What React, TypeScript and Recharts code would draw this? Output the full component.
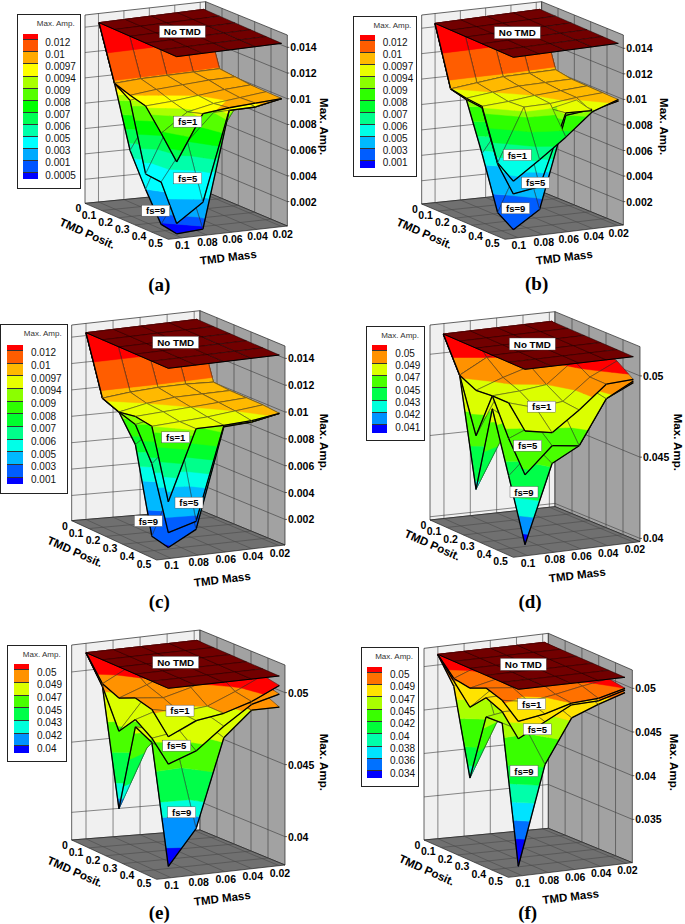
import { ScatterChart, Scatter, XAxis, YAxis } from 'recharts'

// rows: TMD posit. 0 .. 0.5, columns: TMD mass 0.1 .. 0.02
const POSITS = [0, 0.1, 0.2, 0.3, 0.4, 0.5]
const MASSES = [0.1, 0.08, 0.06, 0.04, 0.02]
const FS_NAMES = ['fs=9', 'fs=5', 'fs=1']

const A_TOP = [0.0144, 0.0144, 0.0144, 0.0144, 0.0144]
const A_FS9 = [A_TOP, [0.0102, 0.0103, 0.0103, 0.0103, 0.0103], [0.0055, 0.0088, 0.0097, 0.0101, 0.0102], [0.003, 0.0075, 0.0092, 0.0099, 0.0101], [0.0008, 0.004, 0.0066, 0.0097, 0.01], [0.0006, 0.0007, 0.0097, 0.0097, 0.0101]]
const A_FS5 = [A_TOP, [0.0102, 0.0103, 0.0103, 0.0103, 0.0103], [0.0094, 0.0098, 0.01, 0.0102, 0.0102], [0.0042, 0.0082, 0.0095, 0.01, 0.0101], [0.0041, 0.007, 0.009, 0.0098, 0.01], [0.0014, 0.0028, 0.0097, 0.0097, 0.0101]]
const A_FS1 = [A_TOP, [0.0102, 0.0103, 0.0103, 0.0103, 0.0103], [0.0098, 0.01, 0.0101, 0.0102, 0.0102], [0.0095, 0.0096, 0.0098, 0.01, 0.0101], [0.0079, 0.0093, 0.0097, 0.0099, 0.0101], [0.0062, 0.0097, 0.0099, 0.01, 0.0101]]

const B_FS9 = [A_TOP, [0.0098, 0.01, 0.0102, 0.0102, 0.0102], [0.0095, 0.0096, 0.0099, 0.01, 0.01], [0.0058, 0.0085, 0.0095, 0.0098, 0.01], [0.0017, 0.006, 0.0088, 0.0095, 0.0099], [0.0009, 0.0022, 0.0093, 0.0095, 0.0099]]
const B_FS5 = [A_TOP, [0.0098, 0.01, 0.0102, 0.0102, 0.0102], [0.0095, 0.0097, 0.01, 0.01, 0.01], [0.0094, 0.0095, 0.0097, 0.0099, 0.01], [0.0055, 0.0085, 0.0093, 0.0097, 0.01], [0.0037, 0.004, 0.0095, 0.0094, 0.0099]]
const B_FS1 = [A_TOP, [0.0098, 0.01, 0.0102, 0.0102, 0.0102], [0.0096, 0.0098, 0.01, 0.01, 0.01], [0.0095, 0.0096, 0.0098, 0.0099, 0.01], [0.0056, 0.0097, 0.0097, 0.0099, 0.01], [0.0047, 0.0061, 0.0076, 0.0093, 0.01]]

const C_TOP = [0.01425, 0.01425, 0.01425, 0.01425, 0.01425]
const C_FS9 = [C_TOP, [0.0099, 0.0101, 0.0102, 0.0102, 0.0101], [0.0094, 0.0096, 0.0099, 0.01, 0.01], [0.0075, 0.009, 0.0096, 0.0098, 0.01], [0.0012, 0.006, 0.0088, 0.0095, 0.0099], [0.0009, 0.002, 0.0094, 0.0095, 0.0099]]
const C_FS5 = [C_TOP, [0.0099, 0.0101, 0.0102, 0.0102, 0.0101], [0.0094, 0.0097, 0.01, 0.01, 0.01], [0.009, 0.0094, 0.0097, 0.0099, 0.01], [0.0066, 0.0085, 0.0094, 0.0097, 0.01], [0.002, 0.0026, 0.0095, 0.0095, 0.0099]]
const C_FS1 = [C_TOP, [0.0099, 0.0101, 0.0102, 0.0102, 0.0101], [0.0094, 0.0098, 0.01, 0.01, 0.01], [0.0096, 0.0097, 0.0098, 0.0099, 0.01], [0.0094, 0.0095, 0.0096, 0.0098, 0.01], [0.0043, 0.0095, 0.0095, 0.0096, 0.0099]]

const D_TOP = [0.0512, 0.0512, 0.0512, 0.0512, 0.0512]
const D_FS9 = [D_TOP, [0.0491, 0.05, 0.0502, 0.0508, 0.051], [0.0425, 0.0456, 0.049, 0.0503, 0.0507], [0.0479, 0.0465, 0.0482, 0.0498, 0.0505], [0.0442, 0.0458, 0.047, 0.0488, 0.0499], [0.0404, 0.0452, 0.0461, 0.0488, 0.0496]]
const D_FS5 = [D_TOP, [0.0491, 0.05, 0.0502, 0.0508, 0.051], [0.0458, 0.0488, 0.0495, 0.0504, 0.0508], [0.0487, 0.0484, 0.0488, 0.05, 0.0506], [0.0465, 0.0472, 0.0478, 0.049, 0.05], [0.0447, 0.0463, 0.0461, 0.0488, 0.0497]]
const D_FS1 = [D_TOP, [0.0491, 0.05, 0.0503, 0.0508, 0.051], [0.0486, 0.0492, 0.0497, 0.0506, 0.0509], [0.0487, 0.0488, 0.049, 0.0503, 0.0508], [0.0487, 0.0482, 0.0484, 0.0497, 0.0505], [0.0474, 0.0471, 0.0483, 0.0497, 0.0498]]

const E_TOP = [0.05116, 0.05116, 0.05116, 0.05116, 0.05116]
const E_FS9 = [E_TOP, [0.0493, 0.05, 0.0506, 0.0509, 0.051], [0.0413, 0.0453, 0.0495, 0.0503, 0.0505], [0.0475, 0.047, 0.0486, 0.0497, 0.05], [0.0469, 0.0455, 0.0477, 0.0492, 0.0495], [0.0388, 0.0412, 0.0473, 0.049, 0.049]]
const E_FS5 = [E_TOP, [0.0493, 0.05, 0.0506, 0.0509, 0.051], [0.0467, 0.049, 0.05, 0.0506, 0.0508], [0.048, 0.0486, 0.0492, 0.05, 0.0505], [0.0472, 0.0475, 0.0484, 0.0496, 0.0502], [0.0459, 0.0466, 0.0481, 0.0494, 0.0499]]
const E_FS1 = [E_TOP, [0.0495, 0.0505, 0.0508, 0.051, 0.051], [0.049, 0.0497, 0.0505, 0.0509, 0.051], [0.0495, 0.0493, 0.0498, 0.0505, 0.0509], [0.0492, 0.0488, 0.049, 0.0498, 0.0507], [0.0478, 0.0487, 0.049, 0.0496, 0.0505]]

const F_TOP = [0.05126, 0.05126, 0.05126, 0.05126, 0.05126]
const F_FS9 = [F_TOP, [0.0484, 0.05, 0.0506, 0.0509, 0.051], [0.0387, 0.0447, 0.0495, 0.0503, 0.0506], [0.0465, 0.047, 0.049, 0.0498, 0.0502], [0.0466, 0.045, 0.048, 0.0492, 0.0498], [0.031, 0.0423, 0.0473, 0.0485, 0.0495]]
const F_FS5 = [F_TOP, [0.049, 0.0503, 0.0508, 0.051, 0.0511], [0.0468, 0.049, 0.05, 0.0505, 0.0508], [0.0487, 0.0488, 0.0494, 0.05, 0.0504], [0.0479, 0.0478, 0.0487, 0.0494, 0.05], [0.0456, 0.0472, 0.0488, 0.0489, 0.0498]]
const F_FS1 = [F_TOP, [0.0493, 0.0505, 0.0509, 0.0511, 0.0512], [0.049, 0.0497, 0.0504, 0.0508, 0.051], [0.0498, 0.0495, 0.0498, 0.0503, 0.0507], [0.0492, 0.0487, 0.0492, 0.0498, 0.0503], [0.0476, 0.0481, 0.049, 0.0492, 0.05]]

// contour levels (low to high) and how the legend prints them
const LEVELS_A = [0.0009, 0.0015, 0.003, 0.005, 0.006, 0.007, 0.008, 0.009, 0.0094, 0.0098, 0.0104, 0.0123]
const LABELS_A = ['0.0005', '0.001', '0.003', '0.005', '0.006', '0.007', '0.008', '0.009', '0.0094', '0.0097', '0.01', '0.012']
const LEVELS_B = [0.001, 0.003, 0.005, 0.006, 0.007, 0.008, 0.009, 0.0094, 0.0098, 0.0104, 0.0123]
const LABELS_B = ['0.001', '0.003', '0.005', '0.006', '0.007', '0.008', '0.009', '0.0094', '0.0097', '0.01', '0.012']
const LEVELS_D = [0.041, 0.042, 0.043, 0.045, 0.047, 0.049, 0.05]
const LABELS_D = ['0.041', '0.042', '0.043', '0.045', '0.047', '0.049', '0.05']
const LEVELS_E = [0.04, 0.042, 0.043, 0.045, 0.047, 0.049, 0.05]
const LABELS_E = ['0.04', '0.042', '0.043', '0.045', '0.047', '0.049', '0.05']
const LEVELS_F = [0.034, 0.036, 0.038, 0.04, 0.042, 0.045, 0.047, 0.049, 0.05]
const LABELS_F = ['0.034', '0.036', '0.038', '0.04', '0.042', '0.045', '0.047', '0.049', '0.05']

const TICKS_LOW = [0.002, 0.004, 0.006, 0.008, 0.01, 0.012, 0.014]
const TICKS_HIGH = [0.04, 0.045, 0.05]
const TICKS_F = [0.035, 0.04, 0.045, 0.05]

const W = 685
const H = 924
const MASS_L = 0.1106
const MASS_R = 0.0157
const FONT = '"Liberation Sans", Arial, sans-serif'

// all layout numbers are measured on the 3x crops, ox/oy is the crop origin
const PANELS = [
  {
    name: '(a)', ox: 0, oy: 0, surf: [A_FS9, A_FS5, A_FS1], levels: LEVELS_A, labels: LABELS_A, ticks: TICKS_LOW,
    L: [297, 68], F: [530, 170], R: [845, 130], a0: 0.0144, k: 38500, zr: [0.0001, 0.01496],
    fl: [255, 610], ff: [505, 718], fr: [862, 678], fb: [617, 575], tl: 45, tb: 5, tr: 105,
    boxes: [[547, 95], [467, 632], [563, 535], [563, 365]],
    legend: { box: [50, 43, 242, 568], sw: [66, 111, 100, 535], tx: 133, first: 125, step: 36.25 },
    cap: [478, 852], posit: [262, 700], mass: [685, 772], amp: [972, 380],
  },
  {
    name: '(b)', ox: 345, oy: 0, surf: [B_FS9, B_FS5, B_FS1], levels: LEVELS_B, labels: LABELS_B, ticks: TICKS_LOW,
    L: [270, 70], F: [505, 172], R: [820, 130], a0: 0.0144, k: 38300, zr: [0.00017, 0.01504],
    fl: [230, 612], ff: [480, 718], fr: [835, 675], fb: [590, 575], tl: 45, tb: 5, tr: 105,
    boxes: [[517, 98], [512, 625], [572, 548], [517, 465]],
    legend: { box: [25, 48, 217, 532], sw: [42, 87, 103, 500], tx: 110, first: 127, step: 36 },
    cap: [575, 850], posit: [238, 700], mass: [658, 772], amp: [958, 380],
  },
  {
    name: '(c)', ox: 0, oy: 310, surf: [C_FS9, C_FS5, C_FS1], levels: LEVELS_B, labels: LABELS_B, ticks: TICKS_LOW,
    L: [258, 68], F: [505, 175], R: [838, 135], a0: 0.01425, k: 40250, zr: [0.00009, 0.01492],
    fl: [215, 632], ff: [470, 750], fr: [855, 705], fb: [600, 600], tl: 45, tb: 2, tr: 108,
    boxes: [[527, 97], [445, 633], [567, 578], [527, 382]],
    legend: { box: [1, 43, 203, 552], sw: [18, 65, 102, 520], tx: 90, first: 127, step: 38 },
    cap: [478, 875], posit: [225, 725], mass: [667, 808], amp: [972, 397],
  },
  {
    name: '(d)', ox: 345, oy: 310, surf: [D_FS9, D_FS5, D_FS1], levels: LEVELS_D, labels: LABELS_D, ticks: TICKS_HIGH,
    L: [295, 72], F: [540, 178], R: [865, 140], a0: 0.0512, k: 48700, zr: [0.0398, 0.0518],
    fl: [255, 630], ff: [505, 742], fr: [885, 695], fb: [630, 590], tl: 45, tb: 5, tr: 110,
    boxes: [[562, 102], [537, 546], [548, 407], [590, 290]],
    legend: { box: [63, 48, 240, 393], sw: [78, 124, 103, 365], tx: 148, first: 128, step: 37 },
    cap: [555, 875], posit: [262, 705], mass: [697, 795], amp: [1000, 397],
  },
  {
    name: '(e)', ox: 0, oy: 620, surf: [E_FS9, E_FS5, E_FS1], levels: LEVELS_E, labels: LABELS_E, ticks: TICKS_HIGH,
    L: [258, 98], F: [505, 205], R: [838, 168], a0: 0.05116, k: 43200, zr: [0.03803, 0.05192],
    fl: [215, 660], ff: [470, 778], fr: [855, 735], fb: [600, 630], tl: 75, tb: 30, tr: 135,
    boxes: [[527, 127], [545, 577], [530, 377], [540, 272]],
    legend: { box: [22, 75, 200, 427], sw: [38, 85, 130, 397], tx: 108, first: 155, step: 38 },
    cap: [478, 876], posit: [225, 755], mass: [667, 835], amp: [972, 427],
  },
  {
    name: '(f)', ox: 345, oy: 620, surf: [F_FS9, F_FS5, F_FS1], levels: LEVELS_F, labels: LABELS_F, ticks: TICKS_F,
    L: [278, 103], F: [520, 208], R: [840, 172], a0: 0.05126, k: 26200, zr: [0.03004, 0.0521],
    fl: [237, 660], ff: [490, 772], fr: [862, 728], fb: [610, 625], tl: 85, tb: 40, tr: 150,
    boxes: [[535, 133], [537, 453], [577, 328], [560, 252]],
    legend: { box: [47, 82, 222, 500], sw: [62, 107, 138, 470], tx: 132, first: 162, step: 37 },
    cap: [548, 876], posit: [245, 750], mass: [677, 830], amp: [987, 427],
  },
]

type Panel = (typeof PANELS)[number]
type Pt = { x: number; y: number; a?: number }
type Poly = { pts: Pt[]; fill: string; stroke: string; sw: number; open?: boolean }

function rainbow(t: number) {
  const hex = (v: number) => Math.round(v * 255).toString(16).padStart(2, '0')
  let r = 0
  let g = 0
  let b = 0
  if (t < 0.25) { g = t / 0.25; b = 1 }
  else if (t < 0.5) { g = 1; b = 1 - (t - 0.25) / 0.25 }
  else if (t < 0.75) { r = (t - 0.5) / 0.25; g = 1 }
  else { r = 1; g = 1 - (t - 0.75) / 0.25 }
  return `#${hex(r)}${hex(g)}${hex(b)}`
}

const page = (p: Panel, zx: number, zy: number): Pt => ({ x: zx / 3 + p.ox, y: zy / 3 + p.oy })

function project(p: Panel, i: number, j: number, a: number): Pt {
  const zx = p.L[0] + (i * (p.F[0] - p.L[0])) / 5 + (j * (p.R[0] - p.F[0])) / 4
  const zy = p.L[1] + (i * (p.F[1] - p.L[1])) / 5 + (j * (p.R[1] - p.F[1])) / 4 + (p.a0 - a) * p.k
  return { ...page(p, zx, zy), a }
}

function clip(poly: Pt[], level: number, keepAbove: boolean) {
  const out: Pt[] = []
  const inside = (v: Pt) => (keepAbove ? v.a! >= level : v.a! <= level)
  poly.forEach((cur, n) => {
    const nxt = poly[(n + 1) % poly.length]
    if (inside(cur)) out.push(cur)
    if (inside(cur) !== inside(nxt)) {
      const t = (level - cur.a!) / (nxt.a! - cur.a!)
      out.push({ x: cur.x + t * (nxt.x - cur.x), y: cur.y + t * (nxt.y - cur.y), a: level })
    }
  })
  return out
}

const lerp = (a: number[], b: number[], t: number) => [a[0] + (b[0] - a[0]) * t, a[1] + (b[1] - a[1]) * t]

function framePolys(p: Panel): Poly[] {
  const { fl, ff, fr, fb, tl, tb, tr } = p
  const out: Poly[] = []
  const line = (a: number[], b: number[], stroke = '#3a3a3a', sw = 0.6) =>
    out.push({ pts: [page(p, a[0], a[1]), page(p, b[0], b[1])], fill: 'none', stroke, sw, open: true })
  const face = (c: number[][], fill: string) =>
    out.push({ pts: c.map((v) => page(p, v[0], v[1])), fill, stroke: '#222', sw: 0.7 })
  const topL = [fl[0], tl]
  const topB = [fb[0], tb]
  const topR = [fr[0], tr]
  face([fl, fb, topB, topL], '#f0f0f0')
  face([fb, fr, topR, topB], '#a2a2a2')
  face([fl, ff, fr, fb], '#707070')
  MASSES.forEach((m) => {
    const t = (MASS_L - m) / (MASS_L - MASS_R)
    line(lerp(fl, fb, t), lerp(topL, topB, t))
    line(lerp(fl, fb, t), lerp(ff, fr, t), '#4a4a4a')
  })
  POSITS.slice(1, 5).forEach((po) => {
    const t = po / 0.5
    line(lerp(fb, fr, t), lerp(topB, topR, t))
    line(lerp(fl, ff, t), lerp(fb, fr, t), '#4a4a4a')
  })
  p.ticks.forEach((a) => {
    const t = (a - p.zr[0]) / (p.zr[1] - p.zr[0])
    const onL = lerp(fl, topL, t)
    const onB = lerp(fb, topB, t)
    const onR = lerp(fr, topR, t)
    line(onL, onB)
    line(onB, onR)
    line(onR, [onR[0] + 6, onR[1]], '#000')
  })
  return out
}

function surfacePolys(p: Panel): Poly[] {
  const cells: { key: number; mean: number; polys: Poly[] }[] = []
  const nBands = p.levels.length + 1
  p.surf.forEach((grid) => {
    for (let i = 0; i < POSITS.length - 1; i++) {
      for (let j = 0; j < MASSES.length - 1; j++) {
        const quad = [
          project(p, i, j, grid[i][j]),
          project(p, i + 1, j, grid[i + 1][j]),
          project(p, i + 1, j + 1, grid[i + 1][j + 1]),
          project(p, i, j + 1, grid[i][j + 1]),
        ]
        const polys: Poly[] = []
        for (let b = 0; b < nBands; b++) {
          let part = quad
          if (b > 0) part = clip(part, p.levels[b - 1], true)
          if (part.length && b < nBands - 1) part = clip(part, p.levels[b], false)
          if (part.length > 2) {
            const c = rainbow(b / (nBands - 1))
            polys.push({ pts: part, fill: c, stroke: c, sw: 0.4 })
          }
        }
        polys.push({ pts: quad, fill: 'none', stroke: '#2a2a2a', sw: 0.5 })
        if (i === POSITS.length - 2) polys.push({ pts: [quad[1], quad[2]], fill: 'none', stroke: '#000', sw: 1.3, open: true })
        if (j === 0) polys.push({ pts: [quad[0], quad[1]], fill: 'none', stroke: '#000', sw: 1.3, open: true })
        const mean = quad.reduce((s, v) => s + v.a!, 0) / 4
        cells.push({ key: i - j, mean, polys })
      }
    }
  })
  cells.sort((a, b) => a.key - b.key || a.mean - b.mean)
  return cells.flatMap((c) => c.polys)
}

function planePolys(p: Panel): Poly[] {
  const out: Poly[] = []
  for (let i = 0; i < POSITS.length - 1; i++) {
    for (let j = 0; j < MASSES.length - 1; j++) {
      out.push({
        pts: [project(p, i, j, p.a0), project(p, i + 1, j, p.a0), project(p, i + 1, j + 1, p.a0), project(p, i, j + 1, p.a0)],
        fill: '#720000',
        stroke: '#1a0000',
        sw: 0.5,
      })
    }
  }
  const rim = [project(p, 0, 0, p.a0), project(p, 5, 0, p.a0), project(p, 5, 4, p.a0)]
  out.push({ pts: rim, fill: 'none', stroke: '#000', sw: 1, open: true })
  return out
}

// the polygons go through the chart's scales as one scatter per panel, the custom line slices them back
function PolySeries({ polys }: { polys: Poly[] }) {
  const data = polys.flatMap((poly) => poly.pts.map((v) => ({ x: v.x, y: v.y })))
  const drawPolys = (props: any) => {
    const pts: Pt[] = props.points
    let at = 0
    return (
      <g>
        {polys.map((poly, n) => {
          const str = pts.slice(at, at + poly.pts.length).map((v) => `${v.x},${v.y}`).join(' ')
          at += poly.pts.length
          const El: any = poly.open ? 'polyline' : 'polygon'
          return <El key={n} points={str} fill={poly.fill} stroke={poly.stroke} strokeWidth={poly.sw} strokeLinejoin="round" />
        })}
      </g>
    )
  }
  return <Scatter data={data} isAnimationActive={false} line={drawPolys} shape={() => <g />} />
}

type Lab = { x: number; y: number; text: string; size: number; bold?: boolean; rot?: number; anchor?: string; box?: number[]; serif?: boolean }

function labelsFor(p: Panel): Lab[] {
  const out: Lab[] = []
  const at = (z: number[]) => page(p, z[0], z[1])
  p.ticks.forEach((a) => {
    const t = (a - p.zr[0]) / (p.zr[1] - p.zr[0])
    const z = lerp(p.fr, [p.fr[0], p.tr], t)
    out.push({ ...page(p, z[0] + 9, z[1]), text: String(a), size: 10.5, bold: true, anchor: 'start' })
  })
  POSITS.forEach((po, n) => {
    const z = lerp(p.fl, p.ff, po / 0.5)
    out.push({ ...page(p, z[0] + (n === 0 ? -20 : -38), z[1] + (n === 0 ? 15 : 12)), text: String(po), size: 10.5, bold: true })
  })
  MASSES.forEach((m) => {
    const z = lerp(p.ff, p.fr, (MASS_L - m) / (MASS_L - MASS_R))
    out.push({ ...page(p, z[0] + 2, z[1] + 21), text: String(m), size: 10.5, bold: true })
  })
  out.push({ ...at(p.posit), text: 'TMD Posit.', size: 11.5, bold: true, rot: 24 })
  out.push({ ...at(p.mass), text: 'TMD Mass', size: 11.5, bold: true, rot: -7 })
  out.push({ ...at(p.amp), text: 'Max. Amp.', size: 11.5, bold: true, rot: 90 })
  out.push({ ...at(p.cap), text: p.name, size: 19, bold: true, serif: true })
  const names = ['No TMD', ...FS_NAMES]
  p.boxes.forEach((b, n) => {
    out.push({ ...at(b), text: names[n], size: n === 0 ? 9.8 : 9.5, bold: true, box: n === 0 ? [46, 12] : [28, 11] })
  })
  return out
}

function LabelShape(props: any) {
  const { cx, cy, payload } = props
  const lab: Lab = payload
  const font = lab.serif ? '"Liberation Serif", serif' : FONT
  return (
    <g transform={lab.rot ? `rotate(${lab.rot} ${cx} ${cy})` : undefined}>
      {lab.box && (
        <rect x={cx - lab.box[0] / 2} y={cy - lab.box[1] / 2} width={lab.box[0]} height={lab.box[1]} fill="#fff" stroke="#444" strokeWidth={0.4} />
      )}
      <text x={cx} y={cy} textAnchor={(lab.anchor ?? 'middle') as any} dominantBaseline="central" fontFamily={font} fontSize={lab.size} fontWeight={lab.bold ? 700 : 400} fill="#000">
        {lab.text}
      </text>
    </g>
  )
}

function LegendBox({ p }: { p: Panel }) {
  const { box, sw, tx, first, step } = p.legend
  const n = p.labels.length
  const boundaries = p.labels.map((_, idx) => first - 7 + idx * step)
  const edges = [sw[2], ...boundaries, sw[3]]
  const s = (v: number) => v / 3
  return (
    <div style={{ position: 'absolute', left: p.ox + s(box[0]), top: p.oy + s(box[1]), width: s(box[2] - box[0]), height: s(box[3] - box[1]), border: '1px solid #222', background: '#fff', boxSizing: 'border-box', fontFamily: FONT }}>
      <div style={{ position: 'absolute', right: 5, top: 4, fontSize: 8, color: '#333', whiteSpace: 'nowrap' }}>Max. Amp.</div>
      {edges.slice(0, -1).map((top, idx) => (
        <div key={idx} style={{ position: 'absolute', left: s(sw[0] - box[0]), top: s(top - box[1]), width: s(sw[1] - sw[0]), height: s(edges[idx + 1] - top), background: rainbow(1 - idx / n), borderBottom: idx < n ? '0.5px solid #333' : 'none', boxSizing: 'border-box' }} />
      ))}
      {[...p.labels].reverse().map((text, idx) => (
        <div key={text} style={{ position: 'absolute', left: s(tx - box[0]), top: s(first + idx * step - box[1]) - 6, fontSize: 10, lineHeight: '12px', color: '#111' }}>{text}</div>
      ))}
    </div>
  )
}

export default function App() {
  const polysByPanel = PANELS.map((p) => [...framePolys(p), ...surfacePolys(p), ...planePolys(p)])
  const labels = PANELS.flatMap(labelsFor)
  return (
    <div style={{ position: 'absolute', left: 0, top: 0, width: W, height: H, background: '#fff', overflow: 'hidden' }}>
      <ScatterChart width={W} height={H} margin={{ top: 0, right: 0, bottom: 0, left: 0 }}>
        <XAxis type="number" dataKey="x" domain={[0, W]} hide allowDataOverflow />
        <YAxis type="number" dataKey="y" domain={[0, H]} reversed hide allowDataOverflow />
        {polysByPanel.map((polys, n) => <PolySeries key={n} polys={polys} />)}
        <Scatter data={labels} isAnimationActive={false} shape={<LabelShape />} />
      </ScatterChart>
      {PANELS.map((p) => <LegendBox key={p.name} p={p} />)}
    </div>
  )
}
